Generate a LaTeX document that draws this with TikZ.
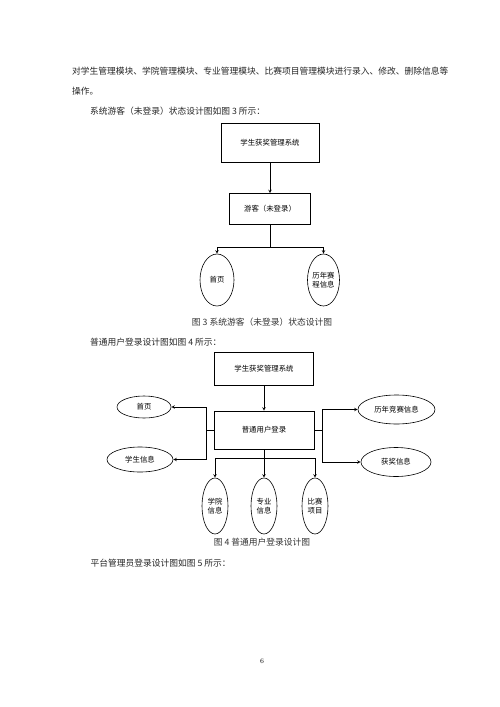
\documentclass[tikz,border=0pt]{standalone}
\usepackage{fontspec}
\newfontfamily\cjk{Noto Sans CJK SC}
\usetikzlibrary{arrows,positioning,shapes.geometric}

\begin{document}
\begin{tikzpicture}[x=1pt,y=-1pt,>=stealth,
	bodytxt/.style={anchor=west, inner sep=0pt, font=\cjk\fontsize{8.75}{10}\selectfont, text=black!85},
	captxt/.style={inner sep=0pt, font=\cjk\fontsize{8.75}{10}\selectfont, text=black!80},
	sysbox/.style={draw, line width=0.6pt, inner sep=0pt, font=\cjk\fontsize{7.4}{9}\selectfont},
	leaf/.style={ellipse, draw, line width=0.6pt, inner sep=0pt, align=center, font=\cjk\fontsize{7.4}{9}\selectfont},
	link/.style={line width=0.6pt}]
	\useasboundingbox[fill=white] (0,0) rectangle (500,707);

	% running text
	\node (t1) at (72,71) [bodytxt] {对学生管理模块、学院管理模块、专业管理模块、比赛项目管理模块进行录入、修改、删除信息等};
	\node (t2) at (72,91) [bodytxt] {操作。};
	\node (t3) at (90,111) [bodytxt] {系统游客（未登录）状态设计图如图 3 所示：};

	% figure 3
	\node (s3) at (270,142.5) [sysbox, minimum width=98pt, minimum height=39pt] {学生获奖管理系统};
	\node (g3) at (270,209) [sysbox, minimum width=81pt, minimum height=31pt] {游客（未登录）};
	\node (h3) at (217,280) [leaf, minimum width=34pt, minimum height=52pt] {首页};
	\node (l3) at (323.5,280) [leaf, minimum width=32pt, minimum height=52pt] {历年赛\\程信息};
	\coordinate (b3) at (270,247.5);
	\draw [link, ->] (s3) -- (g3);
	\draw [link] (g3) -- (b3);
	\draw [link, ->] (b3) -| (h3);
	\draw [link, ->] (b3) -| (l3);
	\node (f3) at (262,321.7) [captxt] {图 3 系统游客（未登录）状态设计图};

	\node (t4) at (90,341.7) [bodytxt] {普通用户登录设计图如图 4 所示：};

	% figure 4
	\node (s4) at (264,369) [sysbox, minimum width=99pt, minimum height=33pt] {学生获奖管理系统};
	\node (u4) at (264,430) [sysbox, minimum width=100pt, minimum height=38pt] {普通用户登录};
	\node (h4) at (144,407) [leaf, minimum width=54pt, minimum height=22pt] {首页};
	\node (st4) at (140,459.5) [leaf, minimum width=66pt, minimum height=25pt] {学生信息};
	\node (l4) at (396.5,409.5) [leaf, minimum width=77pt, minimum height=29pt] {历年竞赛信息};
	\node (a4) at (396,462) [leaf, minimum width=70pt, minimum height=29pt] {获奖信息};
	\node (c4) at (215,506) [leaf, minimum width=26pt, minimum height=56pt] {学院\\信息};
	\node (m4) at (264,506) [leaf, minimum width=26pt, minimum height=56pt] {专业\\信息};
	\node (p4) at (315,506) [leaf, minimum width=26pt, minimum height=56pt] {比赛\\项目};
	\coordinate (lj) at (206,430);
	\coordinate (rj) at (322.5,430);
	\coordinate (bj) at (264,458.3);
	\draw [link, ->] (s4) -- (u4);
	\draw [link] (u4.west) -- (lj);
	\draw [link, ->] (lj) |- (h4);
	\draw [link, ->] (lj) |- (st4);
	\draw [link] (u4.east) -- (rj);
	\draw [link, ->] (rj) |- (l4);
	\draw [link, ->] (rj) |- (a4);
	\draw [link] (u4.south) -- (bj);
	\draw [link, ->] (bj) -| (c4);
	\draw [link, ->] (bj) -- (m4);
	\draw [link, ->] (bj) -| (p4);
	\node (f4) at (262,541.7) [captxt] {图 4 普通用户登录设计图};

	\node (t5) at (90.5,563) [bodytxt] {平台管理员登录设计图如图 5 所示：};

	\node (pg) at (262,661) [inner sep=0pt, font=\fontsize{7}{8}\selectfont] {6};
\end{tikzpicture}
\end{document}
